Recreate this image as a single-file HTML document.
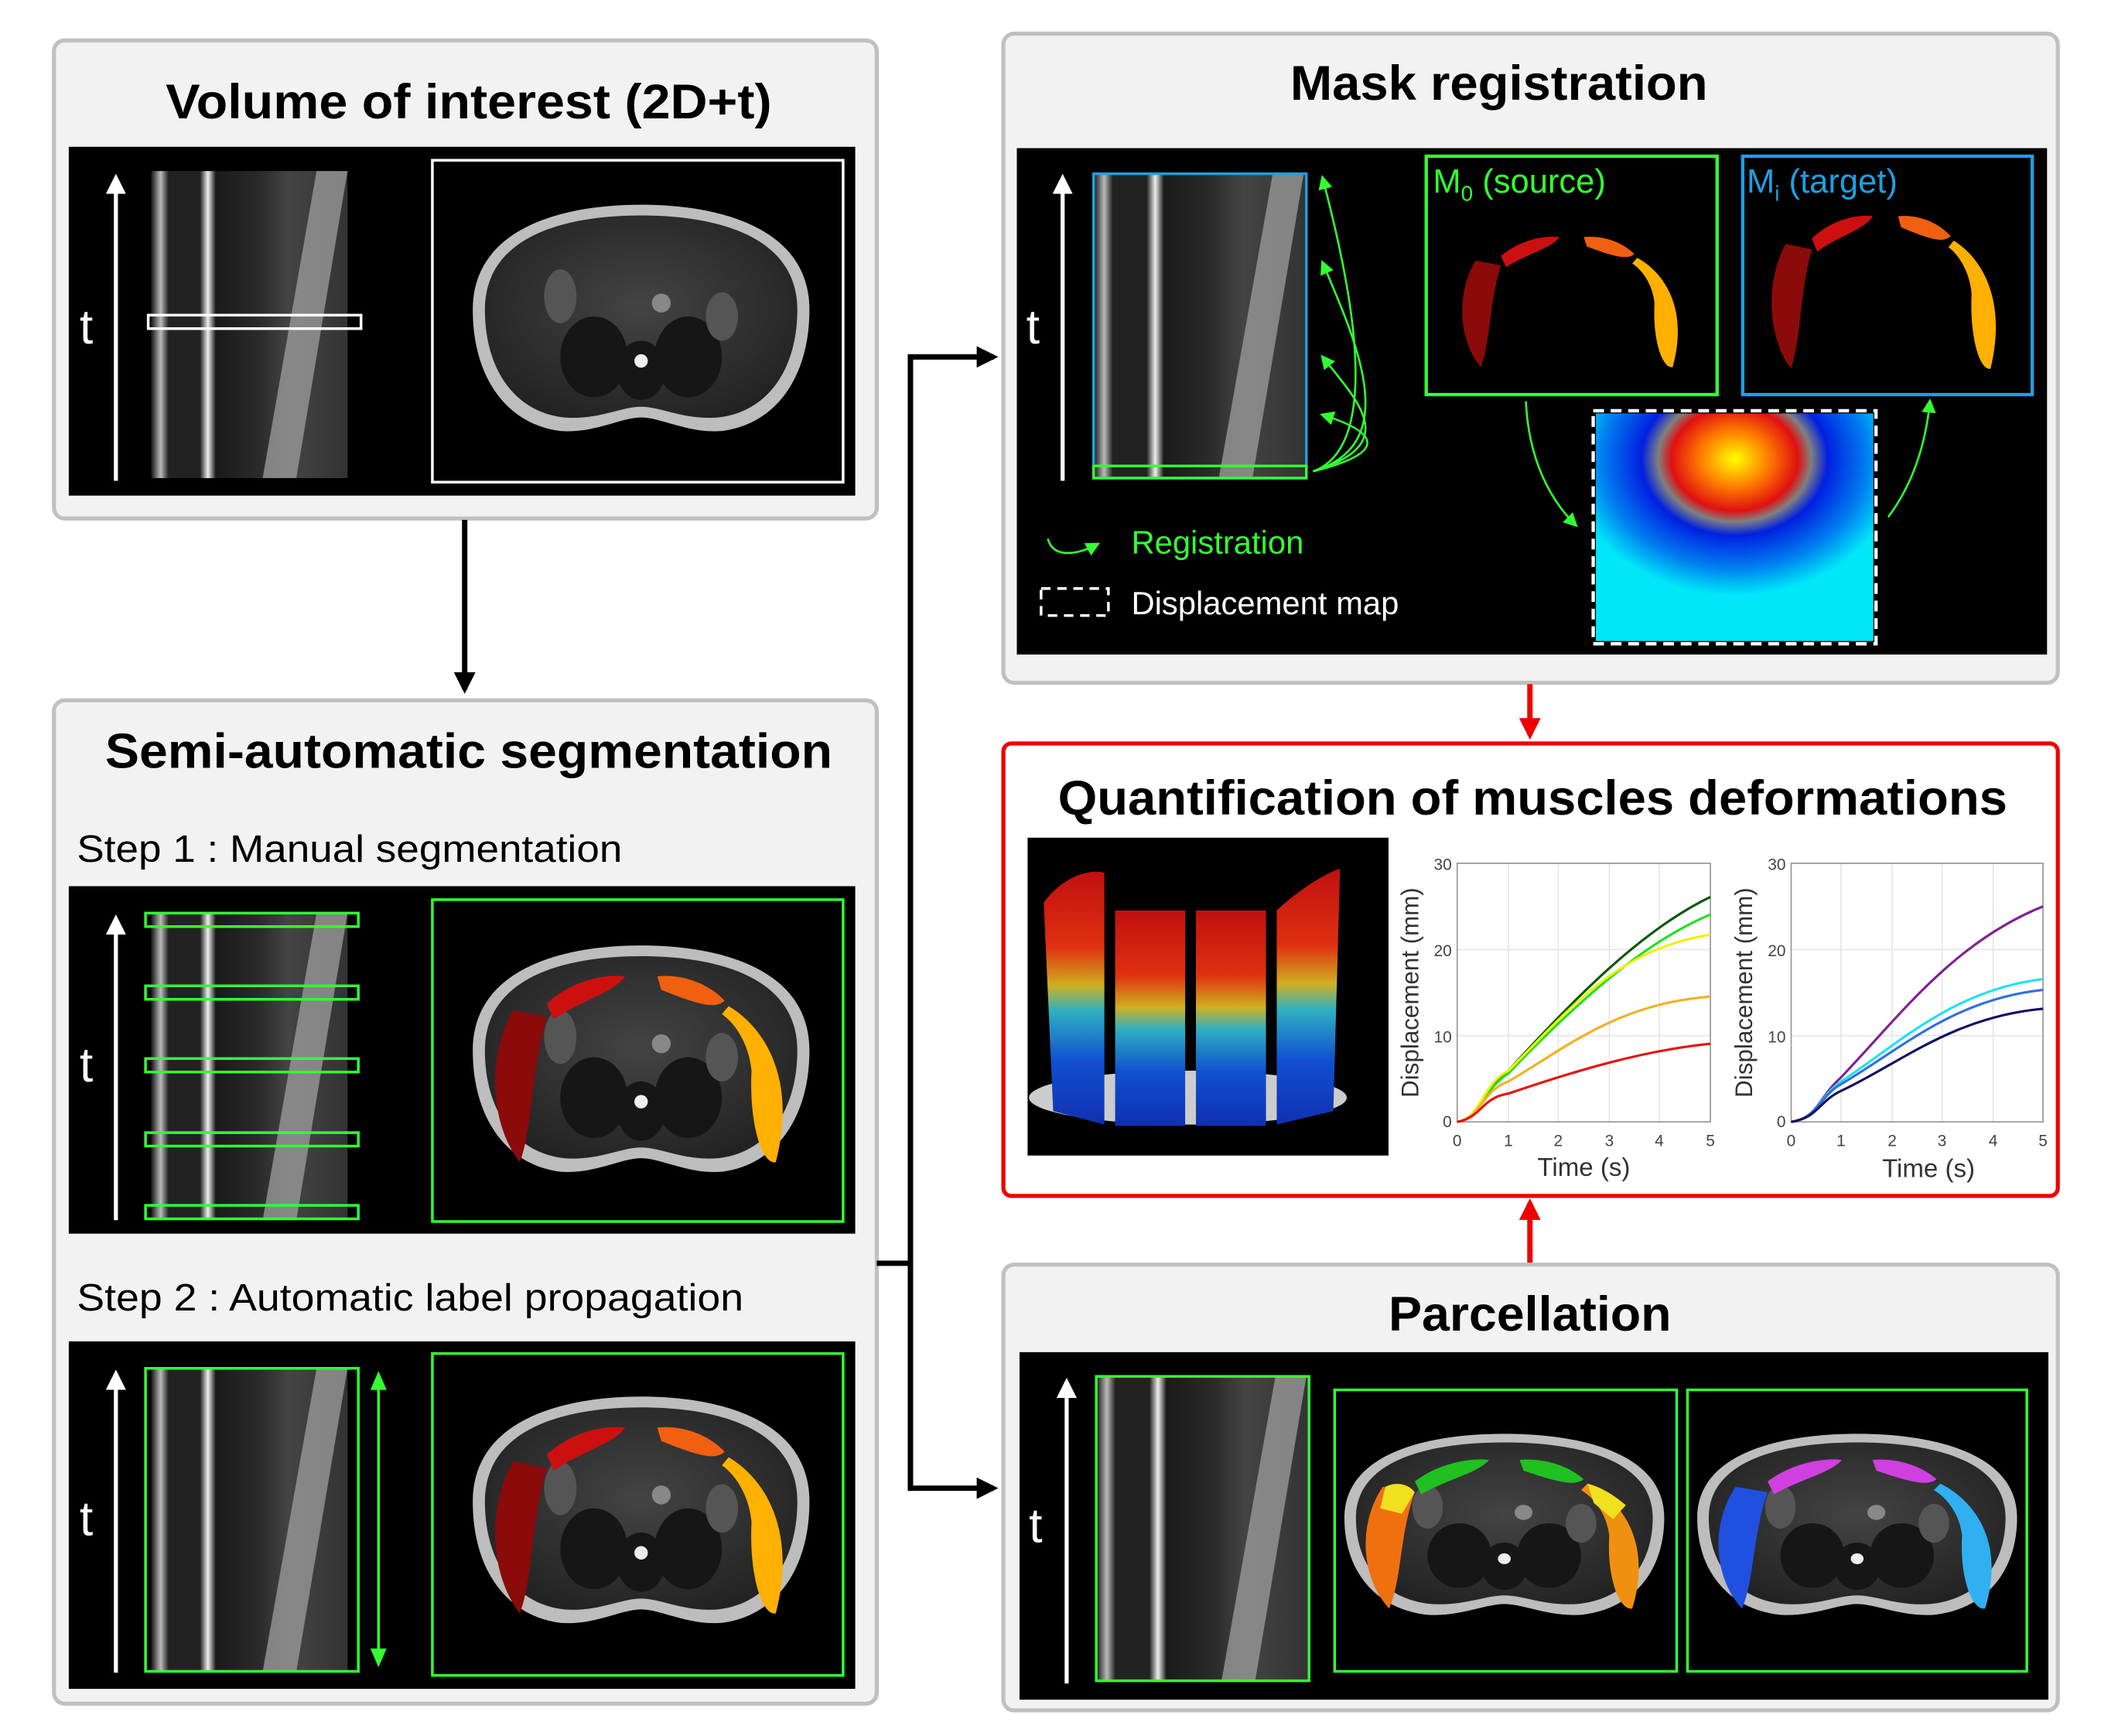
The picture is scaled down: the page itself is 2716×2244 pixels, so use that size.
<!DOCTYPE html>
<html><head><meta charset="utf-8"><style>
html,body{margin:0;padding:0;background:#fff;width:2716px;height:2244px;overflow:hidden}
svg{display:block}
text{font-family:"Liberation Sans",sans-serif}
</style></head><body>
<svg width="2716" height="2244" viewBox="0 0 1560 1289" xmlns="http://www.w3.org/2000/svg">
<defs>
<linearGradient id="strip" x1="0" x2="1" y1="0" y2="0">
<stop offset="0" stop-color="#111"/><stop offset="0.05" stop-color="#bbb"/><stop offset="0.09" stop-color="#222"/>
<stop offset="0.25" stop-color="#222"/><stop offset="0.29" stop-color="#eee"/><stop offset="0.33" stop-color="#1a1a1a"/>
<stop offset="0.55" stop-color="#2a2a2a"/><stop offset="0.7" stop-color="#444"/><stop offset="1" stop-color="#333"/>
</linearGradient>
<radialGradient id="mriIn" cx="0.5" cy="0.45" r="0.6">
<stop offset="0" stop-color="#444"/><stop offset="1" stop-color="#222"/></radialGradient>
<linearGradient id="jet" x1="0" x2="0" y1="0" y2="1">
<stop offset="0" stop-color="#c01010"/><stop offset="0.3" stop-color="#e03010"/><stop offset="0.45" stop-color="#d0b020"/>
<stop offset="0.55" stop-color="#30b0c0"/><stop offset="0.75" stop-color="#1050d0"/><stop offset="1" stop-color="#1030b0"/></linearGradient>
<radialGradient id="disp" cx="0.5" cy="0.2" r="0.6" fx="0.5" fy="0.2">
<stop offset="0" stop-color="#ffff00"/><stop offset="0.2" stop-color="#ff8000"/><stop offset="0.38" stop-color="#e01010"/>
<stop offset="0.46" stop-color="#808080"/><stop offset="0.56" stop-color="#0020e0"/><stop offset="0.8" stop-color="#0080f0"/><stop offset="1" stop-color="#00e8f8"/></radialGradient>
<marker id="ab" viewBox="0 0 10 10" refX="8" refY="5" markerWidth="4" markerHeight="4" orient="auto"><path d="M0,0L10,5L0,10z" fill="#000"/></marker>
<marker id="ar" viewBox="0 0 10 10" refX="8" refY="5" markerWidth="4" markerHeight="4" orient="auto"><path d="M0,0L10,5L0,10z" fill="#e00"/></marker>
<marker id="aw" viewBox="0 0 10 10" refX="8" refY="5" markerWidth="5" markerHeight="5" orient="auto"><path d="M0,0L10,5L0,10z" fill="#fff"/></marker>
<marker id="ag" viewBox="0 0 10 10" refX="8" refY="5" markerWidth="7" markerHeight="7" orient="auto"><path d="M0,0L10,5L0,10z" fill="#3f3"/></marker>
<g id="mri">
<path d="M-125,-10 C-125,-70 -60,-88 0,-88 C60,-88 125,-70 125,-10 C125,40 100,75 60,80 C35,82 15,70 0,70 C-15,70 -35,82 -60,80 C-100,75 -125,40 -125,-10z" fill="#bdbdbd"/>
<path d="M-116,-10 C-116,-64 -58,-80 0,-80 C58,-80 116,-64 116,-10 C116,34 94,66 57,70 C32,72 15,62 0,62 C-15,62 -32,72 -57,70 C-94,66 -116,34 -116,-10z" fill="url(#mriIn)"/>
<ellipse cx="-35" cy="25" rx="25" ry="30" fill="#161616"/><ellipse cx="35" cy="25" rx="25" ry="30" fill="#161616"/>
<ellipse cx="0" cy="35" rx="18" ry="22" fill="#161616"/><circle cx="0" cy="28" r="5" fill="#eee"/>
<circle cx="15" cy="-15" r="7" fill="#888"/><ellipse cx="-60" cy="-20" rx="12" ry="20" fill="#555"/><ellipse cx="60" cy="-5" rx="12" ry="18" fill="#555"/>
</g>
<g id="musc">
<path d="M-95,-45 C-115,-10 -112,40 -90,68 C-80,40 -82,0 -70,-40z" fill="#8b0a0a"/>
<path d="M-70,-50 C-50,-68 -25,-72 -12,-70 C-20,-58 -45,-52 -65,-38z" fill="#cc1010"/>
<path d="M12,-70 C30,-72 50,-65 62,-52 C55,-45 40,-50 15,-60z" fill="#f06010"/>
<path d="M65,-48 C95,-30 115,10 100,68 C90,70 80,40 82,0 C80,-20 70,-35 60,-42z" fill="#ffb000"/>
</g>
</defs>

<!-- Box 1 -->
<rect x="40" y="30" width="611" height="355" rx="8" fill="#f2f2f2" stroke="#c0c0c0" stroke-width="3"/>
<text x="348" y="88" font-size="36" font-weight="bold" text-anchor="middle" textLength="450" lengthAdjust="spacingAndGlyphs">Volume of interest (2D+t)</text>
<rect x="51" y="109" width="584" height="259" fill="#000"/>
<line x1="86" y1="357" x2="86" y2="132" stroke="#fff" stroke-width="3" marker-end="url(#aw)"/>
<text x="59" y="255" font-size="36" fill="#fff">t</text>
<rect x="112" y="127" width="146" height="228" fill="url(#strip)"/>
<polygon points="235,127 258,127 220,355 195,355" fill="#999" opacity="0.8"/>
<rect x="110" y="234" width="158" height="10" fill="none" stroke="#fff" stroke-width="2"/>
<rect x="321" y="119" width="305" height="239" fill="none" stroke="#fff" stroke-width="2"/>
<use href="#mri" transform="translate(476,240)"/>

<line x1="345" y1="386" x2="345" y2="512" stroke="#000" stroke-width="4" marker-end="url(#ab)"/>

<!-- Box 2 -->
<rect x="40" y="520" width="611" height="745" rx="8" fill="#f2f2f2" stroke="#c0c0c0" stroke-width="3"/>
<text x="348" y="570" font-size="36" font-weight="bold" text-anchor="middle" textLength="540" lengthAdjust="spacingAndGlyphs">Semi-automatic segmentation</text>
<text x="57" y="640" font-size="28" textLength="405" lengthAdjust="spacingAndGlyphs">Step 1 : Manual segmentation</text>
<rect x="51" y="658" width="584" height="258" fill="#000"/>
<line x1="86" y1="906" x2="86" y2="682" stroke="#fff" stroke-width="3" marker-end="url(#aw)"/>
<text x="59" y="803" font-size="36" fill="#fff">t</text>
<rect x="112" y="678" width="146" height="228" fill="url(#strip)"/>
<polygon points="235,678 258,678 220,906 195,906" fill="#999" opacity="0.8"/>
<g fill="none" stroke="#3f3" stroke-width="2">
<rect x="108" y="678" width="158" height="10"/><rect x="108" y="732" width="158" height="10"/><rect x="108" y="786" width="158" height="10"/><rect x="108" y="841" width="158" height="10"/><rect x="108" y="895" width="158" height="10"/>
<rect x="321" y="668" width="305" height="239"/></g>
<use href="#mri" transform="translate(476,790)"/><use href="#musc" transform="translate(476,795)"/>

<text x="57" y="973" font-size="28" textLength="495" lengthAdjust="spacingAndGlyphs">Step 2 : Automatic label propagation</text>
<rect x="51" y="996" width="584" height="258" fill="#000"/>
<line x1="86" y1="1242" x2="86" y2="1020" stroke="#fff" stroke-width="3" marker-end="url(#aw)"/>
<text x="59" y="1140" font-size="36" fill="#fff">t</text>
<rect x="112" y="1016" width="146" height="225" fill="url(#strip)"/>
<polygon points="235,1016 258,1016 220,1241 195,1241" fill="#999" opacity="0.8"/>
<g fill="none" stroke="#3f3" stroke-width="2"><rect x="108" y="1016" width="158" height="225"/><rect x="321" y="1005" width="305" height="239"/></g>
<line x1="281" y1="1028" x2="281" y2="1228" stroke="#3f3" stroke-width="2"/>
<polygon points="281,1018 275,1032 287,1032" fill="#3f3"/><polygon points="281,1238 275,1224 287,1224" fill="#3f3"/>
<use href="#mri" transform="translate(476,1125)"/><use href="#musc" transform="translate(476,1130)"/>

<!-- connector -->
<polyline points="651,938 676,938" stroke="#000" stroke-width="4" fill="none"/>
<line x1="676" y1="263" x2="676" y2="1107" stroke="#000" stroke-width="4"/>
<line x1="674" y1="265" x2="738" y2="265" stroke="#000" stroke-width="4" marker-end="url(#ab)"/>
<line x1="674" y1="1105" x2="738" y2="1105" stroke="#000" stroke-width="4" marker-end="url(#ab)"/>

<!-- Box 3 -->
<rect x="745" y="25" width="783" height="482" rx="8" fill="#f2f2f2" stroke="#c0c0c0" stroke-width="3"/>
<text x="1113" y="74" font-size="36" font-weight="bold" text-anchor="middle" textLength="310" lengthAdjust="spacingAndGlyphs">Mask registration</text>
<rect x="755" y="110" width="765" height="376" fill="#000"/>
<line x1="789" y1="357" x2="789" y2="132" stroke="#fff" stroke-width="3" marker-end="url(#aw)"/>
<text x="762" y="255" font-size="36" fill="#fff">t</text>
<rect x="812" y="129" width="158" height="226" fill="url(#strip)"/>
<polygon points="945,129 968,129 930,355 905,355" fill="#999" opacity="0.8"/>
<rect x="812" y="129" width="158" height="226" fill="none" stroke="#1ea0e0" stroke-width="2"/>
<rect x="812" y="346" width="158" height="9" fill="none" stroke="#3f3" stroke-width="2"/>
<g fill="none" stroke="#3f3" stroke-width="1.5">
<path d="M975,350 C1030,330 1000,200 982,132" marker-end="url(#ag)"/>
<path d="M975,350 C1040,330 1010,260 982,195" marker-end="url(#ag)"/>
<path d="M975,350 C1040,330 1010,300 982,265" marker-end="url(#ag)"/>
<path d="M975,350 C1035,335 1020,320 982,308" marker-end="url(#ag)"/>
<path d="M1133,298 C1135,340 1150,370 1170,390" marker-end="url(#ag)"/>
<path d="M1402,384 C1420,360 1430,330 1433,298" marker-end="url(#ag)"/>
<path d="M778,400 C782,415 800,412 815,404" marker-end="url(#ag)"/>
</g>
<rect x="1059" y="116" width="216" height="177" fill="none" stroke="#3f3" stroke-width="2.5"/>
<rect x="1294" y="116" width="215" height="177" fill="none" stroke="#1ea0e0" stroke-width="2.5"/>
<text x="1064" y="143" font-size="25" fill="#3f3">M<tspan font-size="16" dy="6">0</tspan><tspan dy="-6"> (source)</tspan></text>
<text x="1297" y="143" font-size="25" fill="#1ea0e0">M<tspan font-size="16" dy="6">i</tspan><tspan dy="-6"> (target)</tspan></text>
<use href="#musc" transform="translate(1167,225) scale(0.75,0.7)"/>
<use href="#musc" transform="translate(1400,218) scale(0.78,0.82)"/>
<rect x="1185" y="307" width="206" height="169" fill="url(#disp)"/>
<rect x="1183" y="305" width="210" height="173" fill="none" stroke="#fff" stroke-width="2.5" stroke-dasharray="8,5"/>
<text x="840" y="411" font-size="24" fill="#3f3">Registration</text>
<rect x="773" y="437" width="50" height="20" fill="none" stroke="#fff" stroke-width="2" stroke-dasharray="7,5"/>
<text x="840" y="456" font-size="24" fill="#fff">Displacement map</text>

<line x1="1136" y1="508" x2="1136" y2="546" stroke="#e00" stroke-width="4" marker-end="url(#ar)"/>
<line x1="1136" y1="938" x2="1136" y2="893" stroke="#e00" stroke-width="4" marker-end="url(#ar)"/>

<!-- Box 4 -->
<rect x="745" y="552" width="783" height="336" rx="6" fill="#fff" stroke="#e00" stroke-width="3"/>
<text x="1138" y="605" font-size="36" font-weight="bold" text-anchor="middle" textLength="705" lengthAdjust="spacingAndGlyphs">Quantification of muscles deformations</text>
<rect x="763" y="622" width="268" height="236" fill="#000"/>
<ellipse cx="882" cy="815" rx="118" ry="20" fill="#ccc"/>
<path d="M775,670 C790,650 810,645 820,648 L820,835 L782,825z" fill="url(#jet)"/>
<rect x="828" y="676" width="52" height="160" fill="url(#jet)"/>
<rect x="888" y="676" width="52" height="160" fill="url(#jet)"/>
<path d="M948,676 C965,660 985,648 995,645 L990,825 L948,835z" fill="url(#jet)"/>
<g font-size="12" fill="#444">
<g stroke="#e6e6e6" stroke-width="1"><line x1="1082" y1="705" x2="1270" y2="705"/><line x1="1082" y1="769" x2="1270" y2="769"/>
<line x1="1120" y1="641" x2="1120" y2="833"/><line x1="1157" y1="641" x2="1157" y2="833"/><line x1="1195" y1="641" x2="1195" y2="833"/><line x1="1232" y1="641" x2="1232" y2="833"/>
<line x1="1330" y1="705" x2="1517" y2="705"/><line x1="1330" y1="769" x2="1517" y2="769"/>
<line x1="1367" y1="641" x2="1367" y2="833"/><line x1="1405" y1="641" x2="1405" y2="833"/><line x1="1442" y1="641" x2="1442" y2="833"/><line x1="1480" y1="641" x2="1480" y2="833"/></g>
<rect x="1082" y="641" width="188" height="192" fill="none" stroke="#999"/>
<rect x="1330" y="641" width="187" height="192" fill="none" stroke="#999"/>
<text x="1078" y="646" text-anchor="end">30</text><text x="1078" y="710" text-anchor="end">20</text><text x="1078" y="774" text-anchor="end">10</text><text x="1078" y="837" text-anchor="end">0</text>
<text x="1326" y="646" text-anchor="end">30</text><text x="1326" y="710" text-anchor="end">20</text><text x="1326" y="774" text-anchor="end">10</text><text x="1326" y="837" text-anchor="end">0</text>
<text x="1082" y="851" text-anchor="middle">0</text><text x="1120" y="851" text-anchor="middle">1</text><text x="1157" y="851" text-anchor="middle">2</text><text x="1195" y="851" text-anchor="middle">3</text><text x="1232" y="851" text-anchor="middle">4</text><text x="1270" y="851" text-anchor="middle">5</text>
<text x="1330" y="851" text-anchor="middle">0</text><text x="1367" y="851" text-anchor="middle">1</text><text x="1405" y="851" text-anchor="middle">2</text><text x="1442" y="851" text-anchor="middle">3</text><text x="1480" y="851" text-anchor="middle">4</text><text x="1517" y="851" text-anchor="middle">5</text>
</g>
<text x="1176" y="873" font-size="19" text-anchor="middle" fill="#333">Time (s)</text>
<text x="1432" y="874" font-size="19" text-anchor="middle" fill="#333">Time (s)</text>
<text transform="translate(1053,737) rotate(-90)" font-size="18" text-anchor="middle" fill="#333">Displacement (mm)</text>
<text transform="translate(1301,737) rotate(-90)" font-size="18" text-anchor="middle" fill="#333">Displacement (mm)</text>
<g fill="none" stroke-width="1.8">
<path d="M1082,833 C1100,830 1100,810 1120,795 C1170,740 1220,690 1270,666" stroke="#0a5a0a"/>
<path d="M1082,833 C1100,830 1100,810 1120,797 C1170,745 1220,700 1270,679" stroke="#20e020"/>
<path d="M1082,833 C1100,830 1100,805 1120,795 C1165,750 1200,705 1270,694" stroke="#f0f010"/>
<path d="M1082,833 C1100,830 1100,810 1120,803 C1160,780 1200,745 1270,740" stroke="#f5b020"/>
<path d="M1082,833 C1100,830 1100,815 1120,812 C1170,795 1220,780 1270,775" stroke="#e81010"/>
<path d="M1330,833 C1350,830 1350,815 1367,800 C1410,755 1450,700 1517,673" stroke="#802090"/>
<path d="M1330,833 C1350,830 1350,815 1367,803 C1410,775 1450,735 1517,727" stroke="#20e0f0"/>
<path d="M1330,833 C1350,830 1350,815 1367,805 C1410,780 1450,742 1517,735" stroke="#3070e0"/>
<path d="M1330,833 C1350,830 1350,818 1367,810 C1410,790 1450,755 1517,749" stroke="#101060"/>
</g>

<!-- Box 5 -->
<rect x="745" y="939" width="783" height="331" rx="8" fill="#f2f2f2" stroke="#c0c0c0" stroke-width="3"/>
<text x="1136" y="988" font-size="36" font-weight="bold" text-anchor="middle" textLength="210" lengthAdjust="spacingAndGlyphs">Parcellation</text>
<rect x="757" y="1004" width="764" height="258" fill="#000"/>
<line x1="792" y1="1250" x2="792" y2="1026" stroke="#fff" stroke-width="3" marker-end="url(#aw)"/>
<text x="764" y="1145" font-size="36" fill="#fff">t</text>
<rect x="814" y="1022" width="158" height="226" fill="url(#strip)"/>
<polygon points="947,1022 970,1022 932,1248 907,1248" fill="#999" opacity="0.8"/>
<g fill="none" stroke="#3f3" stroke-width="2"><rect x="814" y="1022" width="158" height="226"/>
<rect x="991" y="1032" width="254" height="209"/><rect x="1253" y="1032" width="252" height="209"/></g>
<use href="#mri" transform="translate(1117,1135) scale(0.95,0.8)"/>
<g transform="translate(1117,1140) scale(0.95,0.8)">
<path d="M-95,-45 C-115,-10 -112,40 -90,68 C-80,40 -82,0 -70,-40z" fill="#f07010"/>
<path d="M-70,-50 C-50,-68 -25,-72 -12,-70 C-20,-58 -45,-52 -65,-38z" fill="#20c020"/>
<path d="M12,-70 C30,-72 50,-65 62,-52 C55,-45 40,-50 15,-60z" fill="#20c020"/>
<path d="M65,-48 C95,-30 115,10 100,68 C90,70 80,40 82,0 C80,-20 70,-35 60,-42z" fill="#f09010"/>
<path d="M-93,-45 C-85,-50 -75,-48 -70,-40 L-80,-20 L-97,-25z" fill="#f0e020"/>
<path d="M65,-48 C75,-45 85,-38 95,-28 L85,-15 L70,-30z" fill="#f0e020"/>
</g>
<use href="#mri" transform="translate(1379,1135) scale(0.95,0.8)"/>
<g transform="translate(1379,1140) scale(0.95,0.8)">
<path d="M-95,-45 C-115,-10 -112,40 -90,68 C-80,40 -82,0 -70,-40z" fill="#2050e0"/>
<path d="M-70,-50 C-50,-68 -25,-72 -12,-70 C-20,-58 -45,-52 -65,-38z" fill="#d040e0"/>
<path d="M12,-70 C30,-72 50,-65 62,-52 C55,-45 40,-50 15,-60z" fill="#d040e0"/>
<path d="M65,-48 C95,-30 115,10 100,68 C90,70 80,40 82,0 C80,-20 70,-35 60,-42z" fill="#30b0f0"/>
</g>
</svg>
</body></html>
